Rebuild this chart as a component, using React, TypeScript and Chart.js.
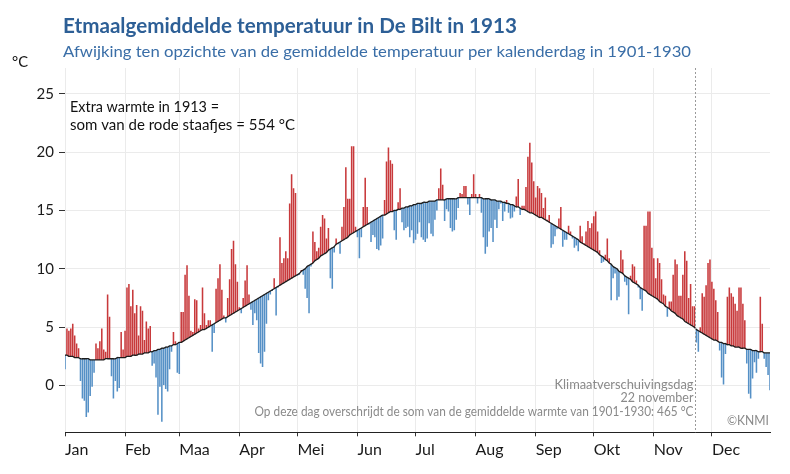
import { useEffect, useRef } from 'react';
import { Chart, registerables } from 'chart.js';

Chart.register(...registerables);

const MONTHS = ['Jan', 'Feb', 'Maa', 'Apr', 'Mei', 'Jun', 'Jul', 'Aug', 'Sep', 'Okt', 'Nov', 'Dec'];
const Y_TICKS = [0, 5, 10, 15, 20, 25];

// Etmaalgemiddelde temperatuur De Bilt 1913 (°C), per maand
const T_JAN = [1.4, 4.9, 4.7, 4.9, 5.3, 4.3, 3.6, 3.2, 0.4, -1.1, -1.3, -2.7, -2.3, -0.9, -0.1, 1.1, 3.6, 3.2, 3.8, 4.9, 3.1, 2.9, 7.8, 5.9, 0.8, -1.1, 0.4, -0.5, -0.2, 4.6, 3.1];
const T_FEB = [4.7, 8.4, 8.7, 6.8, 8.2, 6.2, 6.9, 4.3, 6.8, 6.4, 3.9, 5.5, 4.9, 5.1, 1.7, 1.9, 0.7, -2.5, -0.1, -3.1, 0.0, -0.3, -0.5, 1.4, 2.9, 4.6, 3.8, 1.1];
const T_MAA = [1.0, 6.3, 6.3, 9.5, 10.3, 7.7, 4.7, 4.6, 7.4, 7.3, 4.9, 5.2, 8.4, 6.2, 5.2, 5.6, 5.6, 2.9, 4.5, 8.3, 9.2, 10.4, 8.2, 6.0, 5.4, 7.5, 9.1, 11.7, 12.4, 10.4, 8.9];
const T_APR = [6.7, 6.2, 7.5, 9.0, 10.3, 7.8, 6.5, 5.2, 6.2, 5.6, 2.8, 1.9, 1.6, 2.9, 5.3, 7.3, 7.8, 8.1, 9.2, 6.0, 8.4, 12.7, 10.5, 10.9, 11.5, 10.9, 15.6, 18.1, 16.9, 16.5];
const T_MEI = [9.4, 9.5, 9.9, 9.5, 8.3, 7.5, 6.2, 10.2, 13.2, 12.3, 11.5, 11.8, 13.6, 14.6, 14.3, 12.6, 13.5, 9.2, 8.3, 11.4, 12.6, 12.1, 11.3, 13.6, 15.3, 18.7, 16.0, 16.0, 20.5, 20.5, 13.6];
const T_JUN = [12.7, 10.9, 12.7, 15.3, 17.8, 15.3, 13.8, 12.3, 12.9, 12.7, 11.7, 11.6, 12.0, 12.6, 15.9, 19.2, 20.4, 19.3, 19.0, 13.3, 12.5, 15.7, 16.9, 14.0, 13.3, 13.5, 13.6, 12.7, 13.3, 12.2];
const T_JUL = [12.5, 13.0, 14.0, 12.7, 12.5, 12.3, 12.6, 13.9, 13.0, 12.8, 14.2, 15.0, 16.9, 18.6, 17.2, 14.1, 15.1, 14.9, 13.5, 13.2, 13.3, 14.2, 15.2, 16.5, 16.4, 17.1, 17.1, 15.5, 14.6, 16.4, 18.1];
const T_AUG = [16.4, 15.6, 16.4, 14.8, 12.7, 11.3, 11.9, 13.2, 13.5, 12.3, 14.2, 13.5, 15.1, 15.6, 14.1, 14.9, 15.9, 14.8, 14.3, 14.4, 14.9, 16.2, 17.7, 14.6, 15.4, 15.4, 17.0, 19.6, 20.8, 19.1, 17.5];
const T_SEP = [16.1, 17.1, 16.9, 16.5, 15.2, 16.1, 14.2, 14.6, 11.8, 12.1, 12.8, 13.4, 14.3, 15.3, 11.9, 12.5, 12.5, 13.7, 13.2, 12.6, 11.8, 12.0, 11.5, 13.7, 12.8, 12.2, 13.2, 14.1, 13.5, 13.9];
const T_OKT = [14.5, 14.9, 13.2, 11.6, 10.5, 10.6, 11.2, 12.6, 10.9, 7.3, 9.2, 9.6, 7.3, 7.6, 11.6, 10.8, 8.9, 8.6, 6.1, 9.4, 10.4, 10.2, 9.0, 8.4, 7.4, 6.4, 13.7, 13.7, 14.9, 14.9, 11.8];
const T_NOV = [10.9, 9.2, 10.9, 10.5, 9.1, 7.8, 7.7, 5.9, 7.2, 7.2, 9.5, 10.8, 10.4, 7.7, 7.7, 9.5, 11.5, 10.7, 7.5, 8.7, 6.8, 6.8, 3.7, 2.9, 5.0, 7.9, 7.6, 8.6, 10.5, 10.8];
const T_DEC = [8.9, 8.3, 7.3, 6.3, 3.0, 0.7, 0.1, 2.7, 7.6, 8.4, 7.9, 7.6, 7.0, 6.4, 8.4, 8.4, 7.0, 5.6, 1.9, -0.7, -1.1, 0.6, 2.0, 1.1, 2.3, 7.6, 5.3, 2.3, 1.6, 0.9, -0.4];

// Gemiddelde temperatuur per kalenderdag 1901-1930 (°C)
const N_JAN = [2.6, 2.6, 2.5, 2.5, 2.5, 2.4, 2.4, 2.4, 2.3, 2.3, 2.3, 2.3, 2.3, 2.2, 2.2, 2.2, 2.2, 2.2, 2.2, 2.2, 2.2, 2.3, 2.3, 2.3, 2.3, 2.3, 2.3, 2.4, 2.4, 2.4, 2.4];
const N_FEB = [2.4, 2.5, 2.5, 2.5, 2.6, 2.6, 2.6, 2.7, 2.7, 2.7, 2.8, 2.8, 2.8, 2.9, 2.9, 3.0, 3.0, 3.1, 3.1, 3.2, 3.2, 3.3, 3.3, 3.4, 3.4, 3.5, 3.5, 3.6];
const N_MAA = [3.7, 3.7, 3.8, 3.9, 4.0, 4.1, 4.2, 4.3, 4.4, 4.5, 4.6, 4.7, 4.8, 4.8, 4.9, 5.0, 5.1, 5.2, 5.3, 5.4, 5.5, 5.6, 5.7, 5.8, 5.8, 5.9, 6.0, 6.1, 6.2, 6.3, 6.4];
const N_APR = [6.5, 6.6, 6.7, 6.8, 6.9, 7.0, 7.1, 7.2, 7.3, 7.4, 7.5, 7.6, 7.7, 7.8, 7.9, 8.0, 8.1, 8.2, 8.3, 8.4, 8.5, 8.6, 8.7, 8.8, 8.9, 9.0, 9.1, 9.2, 9.3, 9.4];
const N_MEI = [9.5, 9.6, 9.8, 9.9, 10.0, 10.2, 10.3, 10.4, 10.5, 10.7, 10.8, 10.9, 11.1, 11.2, 11.3, 11.4, 11.6, 11.7, 11.8, 11.9, 12.1, 12.2, 12.3, 12.4, 12.5, 12.6, 12.7, 12.9, 13.0, 13.1, 13.2];
const N_JUN = [13.3, 13.4, 13.5, 13.6, 13.7, 13.8, 13.9, 14.0, 14.1, 14.2, 14.3, 14.4, 14.5, 14.6, 14.6, 14.7, 14.8, 14.9, 14.9, 15.0, 15.0, 15.1, 15.1, 15.2, 15.2, 15.3, 15.3, 15.4, 15.4, 15.5];
const N_JUL = [15.5, 15.6, 15.6, 15.6, 15.7, 15.7, 15.7, 15.8, 15.8, 15.8, 15.8, 15.9, 15.9, 15.9, 15.9, 15.9, 16.0, 16.0, 16.0, 16.0, 16.0, 16.0, 16.1, 16.1, 16.1, 16.1, 16.1, 16.1, 16.1, 16.1, 16.1];
const N_AUG = [16.1, 16.1, 16.1, 16.1, 16.0, 16.0, 16.0, 16.0, 15.9, 15.9, 15.9, 15.8, 15.8, 15.8, 15.7, 15.7, 15.6, 15.6, 15.5, 15.5, 15.4, 15.3, 15.3, 15.2, 15.1, 15.1, 15.0, 14.9, 14.8, 14.8, 14.7];
const N_SEP = [14.6, 14.5, 14.4, 14.4, 14.3, 14.2, 14.1, 14.0, 13.9, 13.8, 13.7, 13.6, 13.5, 13.4, 13.3, 13.2, 13.1, 13.0, 12.9, 12.8, 12.7, 12.6, 12.5, 12.3, 12.2, 12.1, 12.0, 11.9, 11.8, 11.7];
const N_OKT = [11.6, 11.5, 11.4, 11.2, 11.1, 11.0, 10.8, 10.7, 10.5, 10.4, 10.2, 10.1, 10.0, 9.8, 9.7, 9.6, 9.4, 9.3, 9.2, 9.1, 8.9, 8.8, 8.7, 8.6, 8.4, 8.3, 8.2, 8.1, 7.9, 7.8, 7.7];
const N_NOV = [7.6, 7.5, 7.4, 7.2, 7.1, 7.0, 6.8, 6.7, 6.6, 6.4, 6.3, 6.2, 6.0, 5.9, 5.8, 5.7, 5.5, 5.4, 5.3, 5.2, 5.1, 5.0, 4.8, 4.7, 4.6, 4.5, 4.4, 4.3, 4.2, 4.1];
const N_DEC = [4.0, 3.9, 3.9, 3.8, 3.7, 3.7, 3.6, 3.6, 3.5, 3.5, 3.4, 3.4, 3.3, 3.3, 3.3, 3.2, 3.2, 3.2, 3.1, 3.1, 3.1, 3.0, 3.0, 3.0, 2.9, 2.9, 2.9, 2.8, 2.8, 2.8, 2.8];

const TEMP_MONTHS = [T_JAN, T_FEB, T_MAA, T_APR, T_MEI, T_JUN, T_JUL, T_AUG, T_SEP, T_OKT, T_NOV, T_DEC];
const NORMAL_MONTHS = [N_JAN, N_FEB, N_MAA, N_APR, N_MEI, N_JUN, N_JUL, N_AUG, N_SEP, N_OKT, N_NOV, N_DEC];

const TEMP_1913 = TEMP_MONTHS.flat();
const NORMAL = NORMAL_MONTHS.flat();

// index of the first day of every month
const MONTH_START: number[] = [];
TEMP_MONTHS.reduce((acc, m) => {
  MONTH_START.push(acc);
  return acc + m.length;
}, 0);

const KLIMAAT_DAG = MONTH_START[10] + 21; // 22 november

const RED = '#c8393b';
const BLUE = '#5590c6';
const FONT = 'Lato, "Noto Sans", sans-serif';

function fitText(
  ctx: CanvasRenderingContext2D,
  text: string,
  x: number,
  y: number,
  font: string,
  color: string,
  width: number,
  align: CanvasTextAlign = 'left'
) {
  ctx.save();
  ctx.font = font;
  ctx.fillStyle = color;
  ctx.textBaseline = 'alphabetic';
  ctx.textAlign = align;
  const w = ctx.measureText(text).width;
  ctx.translate(x, y);
  ctx.scale(width / w, 1);
  ctx.fillText(text, 0, 0);
  ctx.restore();
}

const overlay = {
  id: 'overlay',
  afterDatasetsDraw(chart: any) {
    const { ctx, chartArea, scales } = chart;
    const x = Math.round(scales.x.getPixelForValue(KLIMAAT_DAG + 0.5)) + 0.5;
    ctx.save();
    ctx.strokeStyle = '#9a9a9a';
    ctx.lineWidth = 1;
    ctx.setLineDash([2, 2]);
    ctx.beginPath();
    ctx.moveTo(x, chartArea.top);
    ctx.lineTo(x, chartArea.bottom);
    ctx.stroke();
    ctx.restore();

    const grey = '#8a8a8a';
    const right = x - 2;
    fitText(ctx, 'Klimaatverschuivingsdag', right, 388.5, `13px ${FONT}`, grey, 139, 'right');
    fitText(ctx, '22 november', right, 402, `13px ${FONT}`, grey, 73, 'right');
    fitText(ctx, 'Op deze dag overschrijdt de som van de gemiddelde warmte van 1901-1930: 465 °C', right, 416, `13px ${FONT}`, grey, 439, 'right');
    fitText(ctx, '©KNMI', chartArea.right - 1, 424.5, `14px ${FONT}`, grey, 42, 'right');

    fitText(ctx, 'Extra warmte in 1913 =', chartArea.left + 5, 111.5, `15px ${FONT}`, '#111', 149);
    fitText(ctx, 'som van de rode staafjes = 554 °C', chartArea.left + 5, 130, `15px ${FONT}`, '#111', 225);
  },
  afterDraw(chart: any) {
    const { ctx } = chart;
    fitText(ctx, 'Etmaalgemiddelde temperatuur in De Bilt in 1913', 63, 32.5, `bold 21px ${FONT}`, '#2d5f96', 454);
    fitText(ctx, 'Afwijking ten opzichte van de gemiddelde temperatuur per kalenderdag in 1901-1930', 63, 57, `16px ${FONT}`, '#3a6ea7', 628);
    fitText(ctx, '°C', 12, 67, `16px ${FONT}`, '#111', 16);
  },
};

export default function App() {
  const canvasRef = useRef<HTMLCanvasElement | null>(null);

  useEffect(() => {
    document.body.style.margin = '0';
    const canvas = canvasRef.current;
    if (!canvas) return;

    const barColors = TEMP_1913.map((t, i) => (t > NORMAL[i] ? RED : BLUE));

    const chart = new Chart(canvas, {
      type: 'bar',
      data: {
        datasets: [
          {
            type: 'line',
            label: 'normaal',
            data: NORMAL.map((v, i) => ({ x: i, y: v })),
            borderColor: '#1c1c1c',
            borderWidth: 1.3,
            pointRadius: 0,
            tension: 0.3,
            order: 0,
          } as any,
          {
            type: 'bar',
            label: '1913',
            data: TEMP_1913.map((t, i) => ({ x: i, y: [NORMAL[i], t] })),
            backgroundColor: barColors,
            borderWidth: 0,
            barPercentage: 0.8,
            categoryPercentage: 1,
            grouped: false,
            order: 1,
          } as any,
        ],
      },
      options: {
        responsive: false,
        animation: false,
        devicePixelRatio: 1,
        layout: { padding: { top: 68, right: 20, bottom: 0, left: 0 } },
        plugins: {
          legend: { display: false },
          tooltip: { enabled: false },
          title: { display: false },
        },
        scales: {
          x: {
            type: 'linear',
            min: 0,
            max: TEMP_1913.length - 1,
            offset: false,
            afterBuildTicks: (scale: any) => {
              scale.ticks = MONTH_START.map((v) => ({ value: v }));
            },
            afterFit: (scale: any) => {
              scale.height = 41.7;
            },
            ticks: {
              autoSkip: false,
              maxRotation: 0,
              minRotation: 0,
              align: 'start',
              padding: 4,
              color: '#1a1a1a',
              font: { family: FONT, size: 16 },
              callback: (v: any) => MONTHS[MONTH_START.indexOf(Number(v))] ?? '',
            },
            grid: {
              offset: false,
              color: '#ebebeb',
              lineWidth: 1,
              tickColor: '#333',
              tickLength: 4,
              drawTicks: true,
            },
            border: { display: true, color: '#222', width: 1 },
          },
          y: {
            type: 'linear',
            min: -4,
            max: 27.2,
            afterBuildTicks: (scale: any) => {
              scale.ticks = Y_TICKS.map((v) => ({ value: v }));
            },
            afterFit: (scale: any) => {
              scale.width = 65;
            },
            ticks: {
              padding: 5,
              color: '#1a1a1a',
              font: { family: FONT, size: 15 },
            },
            grid: {
              color: '#ebebeb',
              lineWidth: 1,
              tickColor: '#333',
              tickLength: 6,
              drawTicks: true,
            },
            border: { display: false },
          },
        },
      } as any,
      plugins: [overlay],
    });

    return () => chart.destroy();
  }, []);

  return (
    <div style={{ width: 790, height: 474, background: '#fff' }}>
      <canvas ref={canvasRef} width={790} height={474} />
    </div>
  );
}
